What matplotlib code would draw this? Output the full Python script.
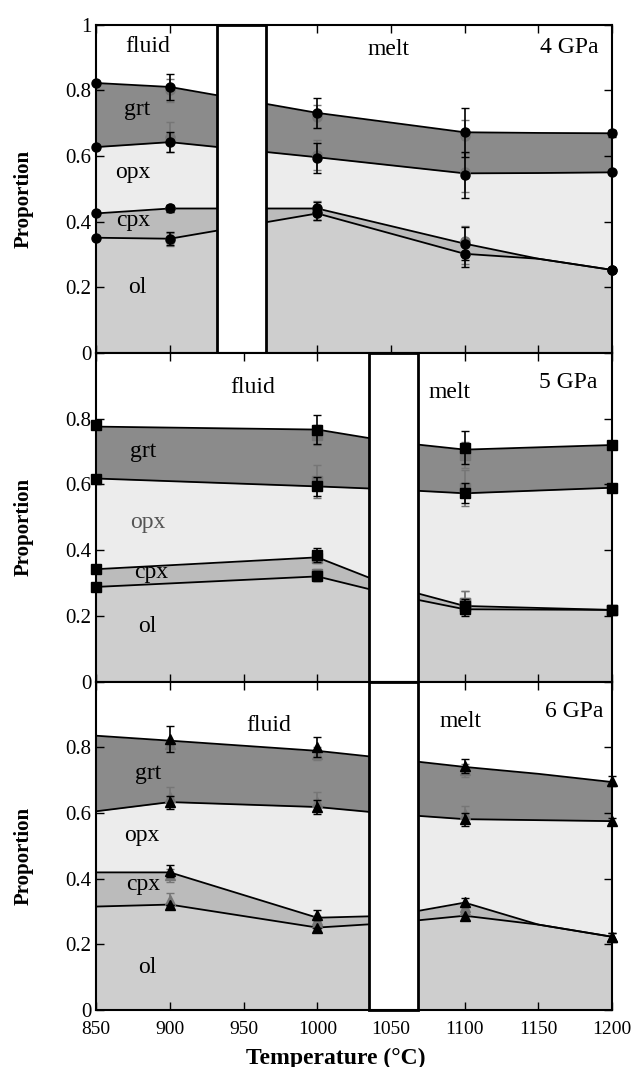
import numpy as np
import matplotlib.pyplot as plt
from matplotlib.patches import Rectangle

plt.rcParams['font.family'] = ['Liberation Serif', 'DejaVu Serif']

phase_names = ['ol', 'cpx', 'opx', 'grt']
phase_colors = ['#cecece', '#bbbbbb', '#ececec', '#8b8b8b']

# ---- 4 GPa : phase proportions (stacked ol, cpx, opx, grt) ----
t4 = [850, 900, 1000, 1100, 1150, 1200]
ol4 = [0.351, 0.348, 0.425, 0.302, 0.287, 0.253]
cpx4 = [0.074, 0.092, 0.015, 0.031, 0.0, 0.0]
opx4 = [0.202, 0.202, 0.156, 0.214, 0.261, 0.297]
grt4 = [0.195, 0.168, 0.135, 0.125, 0.122, 0.119]

# ---- 5 GPa ----
t5 = [850, 1000, 1050, 1100, 1200]
ol5 = [0.288, 0.320, 0.265, 0.220, 0.218]
cpx5 = [0.054, 0.058, 0.025, 0.010, 0.0]
opx5 = [0.276, 0.216, 0.295, 0.343, 0.372]
grt5 = [0.158, 0.173, 0.145, 0.133, 0.130]

# ---- 6 GPa ----
t6 = [850, 900, 1000, 1050, 1100, 1150, 1200]
ol6 = [0.315, 0.321, 0.251, 0.265, 0.287, 0.260, 0.223]
cpx6 = [0.104, 0.098, 0.030, 0.022, 0.040, 0.0, 0.0]
opx6 = [0.186, 0.214, 0.337, 0.310, 0.254, 0.318, 0.352]
grt6 = [0.230, 0.187, 0.171, 0.168, 0.159, 0.141, 0.119]

# black markers: cumulative values (top of ol, cpx, opx, grt) and errors
mk4_t = [850, 900, 1000, 1100, 1200]
blk4 = [[0.351, 0.348, 0.425, 0.302, 0.253],
        [0.425, 0.440, 0.440, 0.333, 0.253],
        [0.627, 0.642, 0.593, 0.541, 0.550],
        [0.822, 0.810, 0.731, 0.672, 0.669]]
blk4_err = [[0, 0.02, 0.02, 0.04, 0],
            [0, 0.01, 0.02, 0.05, 0],
            [0, 0.03, 0.045, 0.07, 0],
            [0, 0.04, 0.045, 0.075, 0.01]]
# gray markers (second estimate) with their errors
gr4_t = [900, 1000, 1100]
gr4 = [[0.345, 0.425, 0.300],
       [0.440, 0.434, 0.342],
       [0.657, 0.602, 0.550],
       [0.800, 0.720, 0.660]]
gr4_err = [[0.02, 0.02, 0.03],
           [0.01, 0.03, 0.045],
           [0.045, 0.045, 0.06],
           [0.035, 0.035, 0.05]]

mk5_t = [850, 1000, 1100, 1200]
blk5 = [[0.288, 0.320, 0.220, 0.218],
        [0.342, 0.385, 0.230, 0.218],
        [0.618, 0.594, 0.573, 0.590],
        [0.780, 0.767, 0.712, 0.720]]
blk5_err = [[0, 0.015, 0.02, 0],
            [0, 0.02, 0.02, 0],
            [0, 0.03, 0.03, 0],
            [0, 0.045, 0.05, 0.01]]
gr5_t = [1000, 1100]
gr5 = [[0.327, 0.240],
       [0.375, 0.240],
       [0.610, 0.590],
       [0.750, 0.690]]
gr5_err = [[0.015, 0.035],
           [0.015, 0.035],
           [0.05, 0.055],
           [0.03, 0.04]]

mk6_t = [900, 1000, 1100, 1200]
blk6 = [[0.321, 0.251, 0.287, 0.223],
        [0.422, 0.290, 0.330, 0.223],
        [0.633, 0.618, 0.581, 0.575],
        [0.826, 0.800, 0.743, 0.697]]
blk6_err = [[0, 0, 0, 0.01],
            [0.018, 0.016, 0.01, 0.01],
            [0.02, 0.02, 0.02, 0.01],
            [0.04, 0.03, 0.022, 0.015]]
gr6_t = [900, 1000, 1100]
gr6 = [[0.336, 0.265, 0.305],
       [0.410, 0.275, 0.315],
       [0.648, 0.633, 0.596],
       [0.810, 0.780, 0.730]]
gr6_err = [[0.02, 0.01, 0.01],
           [0.02, 0.01, 0.01],
           [0.03, 0.03, 0.025],
           [0.01, 0.02, 0.02]]

# white boxes hiding the solidus gap in each panel
gap4 = (932, 965)
gap56 = (1035, 1068)


def draw_panel(ax, t, phases, mk_t, blk, blk_err, gr_t, gr, gr_err, marker, ms, gap):
    tops = np.cumsum(np.array(phases), axis=0)
    lower = np.zeros(len(t))
    for top, col in zip(tops, phase_colors):
        ax.fill_between(t, lower, top, color=col, lw=0, zorder=1)
        ax.plot(t, top, color='black', lw=1.3, zorder=2)
        lower = top
    # gray points
    for yy, ee in zip(gr, gr_err):
        ax.errorbar(gr_t, yy, yerr=ee, fmt=marker, color='#767676', ms=ms,
                    capsize=3, elinewidth=1.2, zorder=3, clip_on=False)
    # black points on the boundaries
    for yy, ee in zip(blk, blk_err):
        ax.errorbar(mk_t, yy, yerr=ee, fmt=marker, color='black', ms=ms,
                    capsize=3, elinewidth=1.2, zorder=4, clip_on=False)
    ax.add_patch(Rectangle((gap[0], 0), gap[1] - gap[0], 1, facecolor='white',
                           edgecolor='black', lw=2, zorder=5, clip_on=False))
    ax.set_xlim(850, 1200)
    ax.set_ylim(0, 1)
    ax.tick_params(direction='in', top=True, right=True, length=6, width=1,
                   labelsize=15)
    ax.tick_params(axis='x', pad=8, labelsize=14)
    ax.set_ylabel('Proportion', fontweight='bold', fontsize=15, va='center')
    ax.yaxis.set_label_coords(-0.141, 0.47)
    for s in ax.spines.values():
        s.set_linewidth(1.5)
        s.set_zorder(6)


fig = plt.figure(figsize=(6.33, 10.67), dpi=100)
axes = fig.subplots(3, 1, sharex=True, gridspec_kw=dict(hspace=0))
fig.subplots_adjust(left=0.152, right=0.967, top=0.977, bottom=0.0534)
ax1, ax2, ax3 = axes

draw_panel(ax1, t4, [ol4, cpx4, opx4, grt4], mk4_t, blk4, blk4_err,
           gr4_t, gr4, gr4_err, 'o', 6.5, gap4)
draw_panel(ax2, t5, [ol5, cpx5, opx5, grt5], mk5_t, blk5, blk5_err,
           gr5_t, gr5, gr5_err, 's', 7.5, gap56)
draw_panel(ax3, t6, [ol6, cpx6, opx6, grt6], mk6_t, blk6, blk6_err,
           gr6_t, gr6, gr6_err, '^', 7, gap56)

yt = [0, 0.2, 0.4, 0.6, 0.8, 1.0]
ax1.set_yticks(yt, ['0', '0.2', '0.4', '0.6', '0.8', '1'])
ax2.set_yticks(yt, ['0', '0.2', '0.4', '0.6', '0.8', ''])
ax3.set_yticks(yt, ['0', '0.2', '0.4', '0.6', '0.8', ''])
ax3.set_xticks(range(850, 1201, 50))

fs = 17
# 4 GPa labels
ax1.text(885, 0.933, 'fluid', fontsize=fs, ha='center', va='center', zorder=7)
ax1.text(1048, 0.923, 'melt', fontsize=fs, ha='center', va='center', zorder=7)
ax1.text(1191, 0.93, '4 GPa', fontsize=fs, ha='right', va='center', zorder=7)
ax1.text(878, 0.74, 'grt', fontsize=fs, ha='center', va='center', zorder=7)
ax1.text(875, 0.55, 'opx', fontsize=fs, ha='center', va='center', zorder=7)
ax1.text(875, 0.403, 'cpx', fontsize=fs, ha='center', va='center', zorder=7)
ax1.text(878, 0.198, 'ol', fontsize=fs, ha='center', va='center', zorder=7)
# 5 GPa labels
ax2.text(956, 0.894, 'fluid', fontsize=fs, ha='center', va='center', zorder=7)
ax2.text(1090, 0.88, 'melt', fontsize=fs, ha='center', va='center', zorder=7)
ax2.text(1190, 0.91, '5 GPa', fontsize=fs, ha='right', va='center', zorder=7)
ax2.text(882, 0.70, 'grt', fontsize=fs, ha='center', va='center', zorder=7)
ax2.text(885, 0.485, 'opx', fontsize=fs, ha='center', va='center',
         color='#555555', zorder=7)
ax2.text(887, 0.333, 'cpx', fontsize=fs, ha='center', va='center', zorder=7)
ax2.text(885, 0.167, 'ol', fontsize=fs, ha='center', va='center', zorder=7)
# 6 GPa labels
ax3.text(967, 0.865, 'fluid', fontsize=fs, ha='center', va='center', zorder=7)
ax3.text(1097, 0.878, 'melt', fontsize=fs, ha='center', va='center', zorder=7)
ax3.text(1194, 0.91, '6 GPa', fontsize=fs, ha='right', va='center', zorder=7)
ax3.text(885, 0.72, 'grt', fontsize=fs, ha='center', va='center', zorder=7)
ax3.text(881, 0.53, 'opx', fontsize=fs, ha='center', va='center', zorder=7)
ax3.text(882, 0.382, 'cpx', fontsize=fs, ha='center', va='center', zorder=7)
ax3.text(885, 0.128, 'ol', fontsize=fs, ha='center', va='center', zorder=7)

ax3.set_xlabel('Temperature (°C)', fontweight='bold', fontsize=17, va='center')
ax3.xaxis.set_label_coords(0.465, -0.147)

fig.savefig('out.png', dpi=100)
